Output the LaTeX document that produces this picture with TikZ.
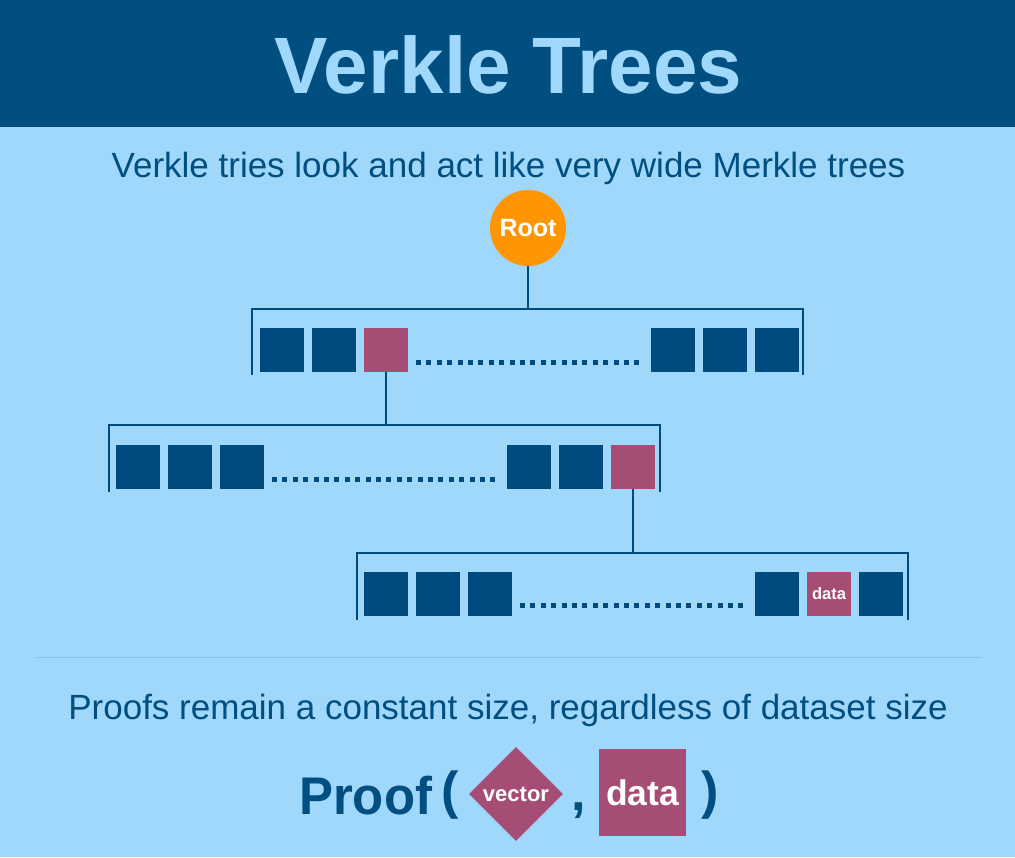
\documentclass[tikz,border=0pt]{standalone}
\usepackage{fontspec}
\setmainfont{Liberation Sans}
\usetikzlibrary{shapes.geometric}
\definecolor{bg}{HTML}{A0D8FC}
\definecolor{bar}{HTML}{004F80}
\definecolor{navy}{HTML}{004B7D}
\definecolor{berry}{HTML}{A64D75}
\definecolor{amber}{HTML}{FF9500}
\definecolor{txt}{HTML}{004F80}
\definecolor{sepline}{HTML}{88C4EA}
\newcommand{\fsz}[1]{\fontsize{#1}{#1}\selectfont}
\begin{document}
\begin{tikzpicture}[x=1pt,y=-1pt,
  cell/.style={rectangle, fill=navy, minimum size=44pt, inner sep=0pt, outer sep=0pt},
  hot/.style={cell, fill=berry},
  wire/.style={draw=navy, line width=1.6pt},
  dotfill/.style={fill=navy},
  heading/.style={anchor=base, text=txt, font=\fsz{35}},
  bigsym/.style={anchor=base west, inner sep=0pt, text=txt, font=\bfseries\fsz{52}}]
% background
\fill[bg] (0,0) rectangle (1015,857);
\fill[bar] (0,0) rectangle (1015,127);
\useasboundingbox (0,0) rectangle (1015,857);
% title and headings
\node[anchor=base, text=bg, font=\bfseries\fsz{80}] (title) at (508.5,93) {Verkle Trees};
\node[heading] (sub) at (508.5,177) {Verkle tries look and act like very wide Merkle trees};
\node[heading] (claim) at (508,719) {Proofs remain a constant size, regardless of dataset size};
\draw[sepline, line width=1pt] (36,657) -- (982,657);
% root
\node[circle, fill=amber, minimum size=76pt, inner sep=0pt, text=white, font=\bfseries\fsz{25}] (root) at (528,228) {Root};
% level 1
\coordinate (b1top) at (528,309);
\draw[wire] (252,375) -- (252,309) -- (803,309) -- (803,375);
\node[cell] (a1) at (282,350) {};
\node[cell] (a2) at (334,350) {};
\node[hot]  (a3) at (386,350) {};
\node[cell] (a4) at (673,350) {};
\node[cell] (a5) at (725,350) {};
\node[cell] (a6) at (777,350) {};
\foreach \i in {0,...,21} \fill[dotfill] (416+\i*10.4,359.5) rectangle ++(5,5);
\draw[wire] (root.south) -- (b1top);
% level 2
\coordinate (b2top) at (386,425);
\draw[wire] (109,492) -- (109,425) -- (660,425) -- (660,492);
\node[cell] (c1) at (138,467) {};
\node[cell] (c2) at (190,467) {};
\node[cell] (c3) at (242,467) {};
\node[cell] (c4) at (529,467) {};
\node[cell] (c5) at (581,467) {};
\node[hot]  (c6) at (633,467) {};
\foreach \i in {0,...,21} \fill[dotfill] (272+\i*10.4,476.5) rectangle ++(5,5);
\draw[wire] (a3.south) -- (b2top);
% level 3
\coordinate (b3top) at (633,553);
\draw[wire] (357,620) -- (357,553) -- (908,553) -- (908,620);
\node[cell] (d1) at (386,594) {};
\node[cell] (d2) at (438,594) {};
\node[cell] (d3) at (490,594) {};
\node[cell] (d4) at (777,594) {};
\node[hot, text=white, font=\bfseries\fsz{16.5}] (d5) at (829,594) {data};
\node[cell] (d6) at (881,594) {};
\foreach \i in {0,...,21} \fill[dotfill] (520+\i*10.4,602.5) rectangle ++(5,5);
\draw[wire] (c6.south) -- (b3top);
% proof line
\node[anchor=base west, inner sep=0pt, text=txt, font=\bfseries\fsz{53}, xscale=0.96] (proof) at (299,814) {Proof};
\node[bigsym] (lpar) at (441,808) {(};
\node[diamond, fill=berry, minimum width=94pt, minimum height=94pt, inner sep=0pt, text=white, font=\bfseries\fsz{22}] (vec) at (516,794) {vector};
\node[bigsym] (comma) at (571,810) {,};
\node[rectangle, fill=berry, minimum size=87pt, inner sep=0pt, text=white, font=\bfseries\fsz{35.5}] (dat) at (642.5,792.5) {data};
\node[bigsym] (rpar) at (701,808) {)};
\end{tikzpicture}
\end{document}
